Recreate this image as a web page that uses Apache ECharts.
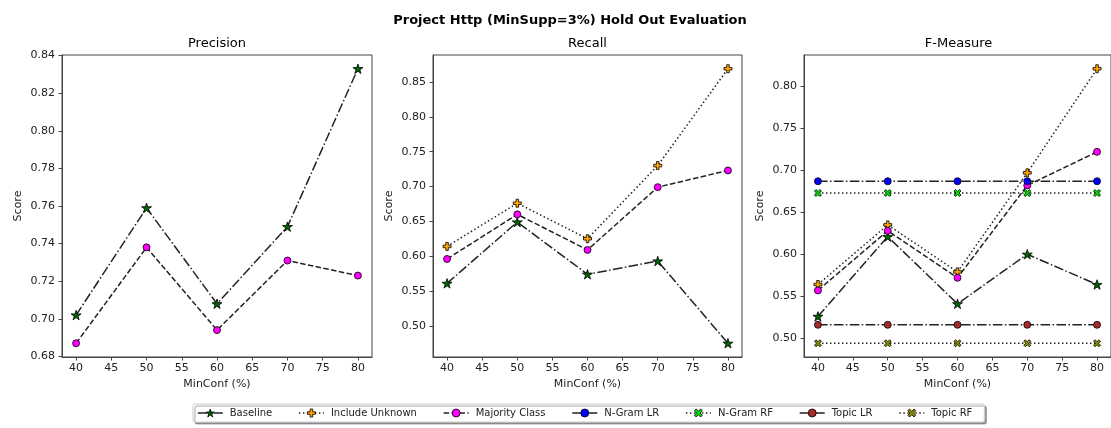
<!DOCTYPE html>
<html>
<head>
<meta charset="utf-8">
<script src="https://cdn.jsdelivr.net/npm/echarts@6/dist/echarts.min.js"></script>
<style>
html,body{margin:0;padding:0;background:#fff;}
#chart{width:1111px;height:428px;}
</style>
</head>
<body>
<div id="chart"></div>
<script>
// ---- data ----
const minConf = [40, 50, 60, 70, 80];
const xTicks = [40, 45, 50, 55, 60, 65, 70, 75, 80];

const precisionBaseline = [0.702, 0.759, 0.708, 0.749, 0.833];
const precisionMajority = [0.687, 0.738, 0.694, 0.731, 0.723];

const recallBaseline = [0.561, 0.649, 0.574, 0.593, 0.475];
const recallIncludeUnknown = [0.614, 0.676, 0.625, 0.730, 0.869];
const recallMajority = [0.596, 0.660, 0.609, 0.699, 0.723];

const fBaseline = [0.526, 0.621, 0.541, 0.600, 0.564];
const fIncludeUnknown = [0.564, 0.635, 0.579, 0.697, 0.821];
const fMajority = [0.557, 0.628, 0.572, 0.682, 0.722];
const fNgramLR = [0.687, 0.687, 0.687, 0.687, 0.687];
const fNgramRF = [0.673, 0.673, 0.673, 0.673, 0.673];
const fTopicLR = [0.516, 0.516, 0.516, 0.516, 0.516];
const fTopicRF = [0.494, 0.494, 0.494, 0.494, 0.494];

const precisionTicks = [0.68, 0.70, 0.72, 0.74, 0.76, 0.78, 0.80, 0.82, 0.84];
const recallTicks = [0.50, 0.55, 0.60, 0.65, 0.70, 0.75, 0.80, 0.85];
const fTicks = [0.50, 0.55, 0.60, 0.65, 0.70, 0.75, 0.80];

const panelTitles = ['Precision', 'Recall', 'F-Measure'];
const mainTitle = 'Project Http (MinSupp=3%) Hold Out Evaluation';
const seriesNames = ['Baseline', 'Include Unknown', 'Majority Class', 'N-Gram LR', 'N-Gram RF', 'Topic LR', 'Topic RF'];

// ---- styles ----
const FONT = 'DejaVu Sans';
const STAR = 'path://M50 0 L61.23 34.55 L97.55 34.55 L68.16 55.9 L79.39 90.45 L50 69.1 L20.61 90.45 L31.84 55.9 L2.45 34.55 L38.77 34.55 Z';
const PLUS = 'path://M34 0 H66 V34 H100 V66 H66 V100 H34 V66 H0 V34 H34 Z';
const XMARK = 'path://M50 28 L78 0 L100 22 L72 50 L100 78 L78 100 L50 72 L22 100 L0 78 L28 50 L0 22 L22 0 Z';
const DASHDOT = [9.6, 2.4, 1.5, 2.4];
const DASHED = [5.5, 2.4];
const DOTTED = [1.5, 2.5];

const styleMap = {
  'Baseline':        {symbol: STAR,     size: 10, color: '#006400', dash: DASHDOT},
  'Include Unknown': {symbol: PLUS,     size: 8,  color: '#ffa500', dash: DOTTED},
  'Majority Class':  {symbol: 'circle', size: 7,  color: '#ff00ff', dash: DASHED},
  'N-Gram LR':       {symbol: 'circle', size: 7,  color: '#0000ff', dash: DASHDOT},
  'N-Gram RF':       {symbol: XMARK,    size: 7,  color: '#00dd00', dash: DOTTED},
  'Topic LR':        {symbol: 'circle', size: 7,  color: '#a52a2a', dash: DASHDOT},
  'Topic RF':        {symbol: XMARK,    size: 7,  color: '#8a8a00', dash: DOTTED}
};

function makeSeries(name, values, gi) {
  const s = styleMap[name];
  return {
    name: name,
    type: 'line',
    xAxisIndex: gi,
    yAxisIndex: gi,
    data: minConf.map((x, i) => [x, values[i]]),
    symbol: s.symbol,
    symbolSize: s.size,
    symbolKeepAspect: true,
    showAllSymbol: true,
    animation: false,
    itemStyle: {color: s.color, borderColor: '#000', borderWidth: 0.8},
    lineStyle: {color: '#222', width: 1.5, type: s.dash},
    emphasis: {disabled: true}
  };
}

function yRange(arrs) {
  const all = [].concat(...arrs);
  const lo = Math.min(...all), hi = Math.max(...all);
  const m = (hi - lo) * 0.05;
  return [lo - m, hi + m];
}

const grids = [
  {left: 62, top: 55, width: 310, height: 302},
  {left: 433, top: 55, width: 309, height: 302},
  {left: 804, top: 55, width: 309, height: 302}
];

const panels = [
  {ticks: precisionTicks, series: [['Baseline', precisionBaseline], ['Majority Class', precisionMajority]]},
  {ticks: recallTicks, series: [['Baseline', recallBaseline], ['Include Unknown', recallIncludeUnknown], ['Majority Class', recallMajority]]},
  {ticks: fTicks, series: [['Baseline', fBaseline], ['Include Unknown', fIncludeUnknown], ['Majority Class', fMajority],
    ['N-Gram LR', fNgramLR], ['N-Gram RF', fNgramRF], ['Topic LR', fTopicLR], ['Topic RF', fTopicRF]]}
];

const axisLineStyle = {color: '#444', width: 1};
const labelStyle = {color: '#222', fontFamily: FONT, fontSize: 11};

const xAxes = [], yAxes = [], series = [], titles = [];
titles.push({text: mainTitle, left: 570, top: 14, padding: 0, textAlign: 'center',
  textStyle: {fontFamily: FONT, fontSize: 13, fontWeight: 'bold', color: '#000'}});

panels.forEach((p, gi) => {
  const g = grids[gi];
  const [lo, hi] = yRange(p.series.map(s => s[1]));
  xAxes.push({
    type: 'value', gridIndex: gi, min: 38, max: 82,
    name: 'MinConf (%)', nameLocation: 'middle', nameGap: 21,
    nameTextStyle: labelStyle,
    axisLine: {show: true, onZero: false, lineStyle: axisLineStyle},
    axisTick: {show: true, inside: false, length: 3.5, lineStyle: axisLineStyle, customValues: xTicks},
    axisLabel: {margin: 6, customValues: xTicks, ...labelStyle},
    splitLine: {show: false}
  });
  yAxes.push({
    type: 'value', gridIndex: gi, min: lo, max: hi,
    name: 'Score', nameLocation: 'middle', nameGap: 38, nameRotate: 90,
    nameTextStyle: labelStyle,
    axisLine: {show: true, onZero: false, lineStyle: axisLineStyle},
    axisTick: {show: true, inside: false, length: 3.5, lineStyle: axisLineStyle, customValues: p.ticks},
    axisLabel: {margin: 7, customValues: p.ticks, formatter: v => v.toFixed(2), ...labelStyle},
    splitLine: {show: false}
  });
  p.series.forEach(([name, vals]) => series.push(makeSeries(name, vals, gi)));
  titles.push({text: panelTitles[gi], left: g.left + g.width / 2, top: 37, padding: 0, textAlign: 'center',
    textStyle: {fontFamily: FONT, fontSize: 13, fontWeight: 'normal', color: '#000'}});
});

const legendData = seriesNames.map(n => {
  const s = styleMap[n];
  return {
    name: n,
    itemStyle: {color: s.color, borderColor: '#000', borderWidth: 0.8},
    lineStyle: {color: '#222', width: 1.5, type: s.dash}
  };
});

const chart = echarts.init(document.getElementById('chart'), null, {renderer: 'canvas'});
chart.setOption({
  backgroundColor: '#fff',
  animation: false,
  title: titles,
  grid: grids.map(g => ({...g, show: true, borderColor: '#444', borderWidth: 1, backgroundColor: 'transparent'})),
  xAxis: xAxes,
  yAxis: yAxes,
  legend: {
    data: legendData,
    left: 193, top: 404,
    itemWidth: 25, itemHeight: 10, itemGap: 26,
    padding: [4, 12, 4, 4],
    borderColor: '#ccc', borderWidth: 1, borderRadius: 2,
    backgroundColor: '#fff',
    shadowColor: 'rgba(0,0,0,0.35)', shadowOffsetX: 2, shadowOffsetY: 2, shadowBlur: 0,
    textStyle: {fontFamily: FONT, fontSize: 10, color: '#222', padding: [0, 0, 0, 2]},
    selectedMode: false
  },
  series: series
});
</script>
</body>
</html>
